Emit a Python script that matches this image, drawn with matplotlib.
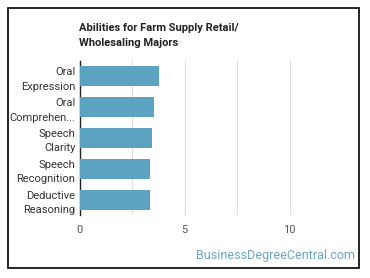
import matplotlib.pyplot as plt
from matplotlib.patches import Rectangle

plt.rcParams['font.family'] = ['Roboto', 'DejaVu Sans']

# Data
abilities = ["Oral\nExpression", "Oral\nComprehen...", "Speech\nClarity",
             "Speech\nRecognition", "Deductive\nReasoning"]
scores = [3.77, 3.56, 3.47, 3.34, 3.34]
xticks = [0, 5, 10]

W, H = 370, 278
fig = plt.figure(figsize=(W / 100, H / 100), dpi=100)

# axes placement in pixels
left, right, top, bottom = 79.5, 342, 61, 215
ax = fig.add_axes([left / W, 1 - bottom / H, (right - left) / W, (bottom - top) / H])

ypos = list(range(len(abilities)))
ax.barh(ypos, scores, height=0.65, color="#5ba3c0", zorder=3)
ax.set_ylim(len(abilities) - 0.5, -0.5)
ax.set_xlim(0, 12.5)

ax.set_yticks(ypos)
ax.set_yticklabels(abilities, fontsize=8, color="#333333", linespacing=1.55)
ax.set_xticks(xticks)
ax.set_xticklabels([str(t) for t in xticks], fontsize=8, color="#555555")
ax.tick_params(axis="both", length=0, pad=3)
ax.tick_params(axis="x", pad=7)

for g in [2.5, 5, 7.5, 10]:
    ax.axvline(g, color="#dddddd", lw=0.8, zorder=1)

for s in ["top", "right", "bottom"]:
    ax.spines[s].set_visible(False)
ax.spines["left"].set_color("#222222")
ax.spines["left"].set_linewidth(1)

fig.text(79 / W, 1 - 28 / H, "Abilities for Farm Supply Retail/", fontsize=8,
         fontweight="bold", color="#222222", va="center", ha="left")
fig.text(79 / W, 1 - 43 / H, "Wholesaling Majors", fontsize=8,
         fontweight="bold", color="#222222", va="center", ha="left")

fig.text(355 / W, 1 - 255 / H, "BusinessDegreeCentral.com", fontsize=9,
         color="#6aa6c0", ha="right", va="center")

# outer frame
fig.patches.append(Rectangle((8 / W, 1 - 268 / H), 351 / W, 260 / H,
                             transform=fig.transFigure, fill=False,
                             edgecolor="black", lw=1.2))

fig.savefig("out.png", dpi=100)
